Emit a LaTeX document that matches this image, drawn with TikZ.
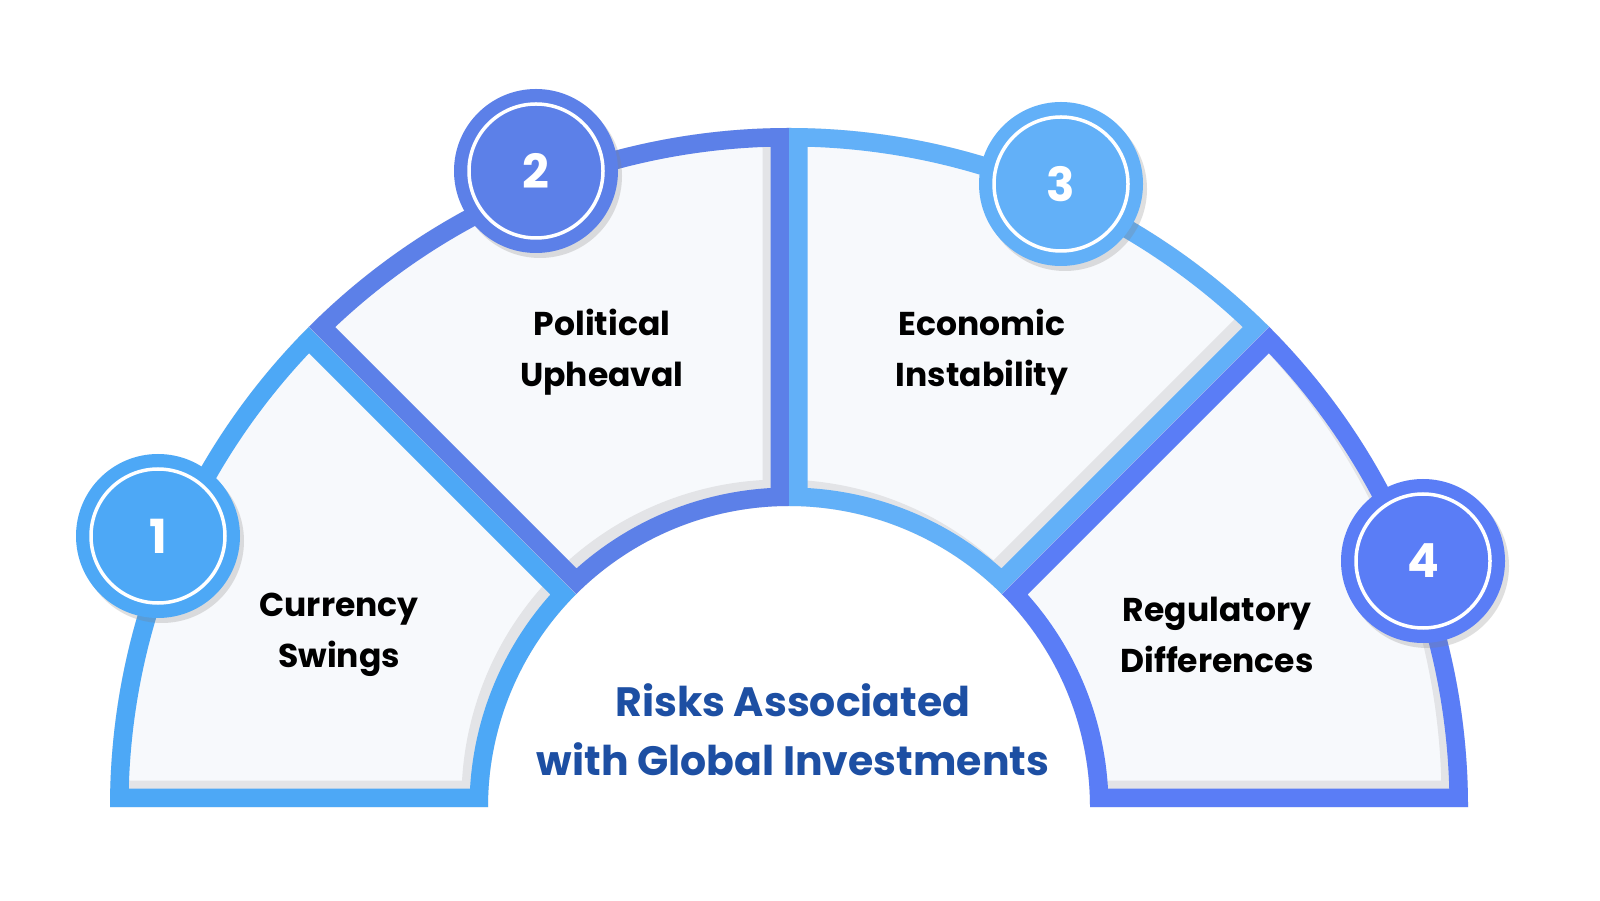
\documentclass[tikz,border=0pt]{standalone}
\usepackage{fontspec}
\setmainfont{Poppins}
\usetikzlibrary{shadows}
\definecolor{cA}{HTML}{4DA8F6}
\definecolor{cB}{HTML}{5C80E8}
\definecolor{cC}{HTML}{62B0F8}
\definecolor{cD}{HTML}{5A7DF6}
\definecolor{pale}{HTML}{F7F9FC}
\definecolor{edgegray}{HTML}{E3E4E7}
\definecolor{titleblue}{HTML}{1D4FA3}
\tikzset{
 badge/.style={circle,minimum size=164pt,inner sep=0pt,text=white,font=\fontsize{47}{50}\selectfont\bfseries,drop shadow={shadow xshift=4pt,shadow yshift=-5pt,opacity=.25}},
 lbl/.style={align=center,font=\fontsize{33}{51}\selectfont\bfseries,text=black},
}
\begin{document}
\begin{tikzpicture}[x=1pt,y=1pt]
\useasboundingbox[fill=white] (0,0) rectangle (1600,900);
\foreach \a/\b/\c in {135/180/cA,90/135/cB,45/90/cC,0/45/cD}{
 \begin{scope}
 \clip (789,93) ++(\a:679) arc[start angle=\a,end angle=\b,radius=679] -- ++(\b:-378) arc[start angle=\b,end angle=\a,radius=301] -- cycle;
 \fill[pale] (789,93) ++(\a:679) arc[start angle=\a,end angle=\b,radius=679] -- ++(\b:-378) arc[start angle=\b,end angle=\a,radius=301] -- cycle;
 \draw[draw=edgegray,line width=37pt,line join=miter] (781,101) ++(\a:679) arc[start angle=\a,end angle=\b,radius=679] -- ++(\b:-378) arc[start angle=\b,end angle=\a,radius=301] -- cycle;
 \draw[draw=\c,line width=37pt] (789,93) ++(\a:679) arc[start angle=\a,end angle=\b,radius=679] -- ++(\b:-378) arc[start angle=\b,end angle=\a,radius=301] -- cycle;
 \end{scope}
}
\node[badge,fill=cA] (n1) at (158,364) {1};
\node[badge,fill=cB] (n2) at (536,729) {2};
\node[badge,fill=cC] (n3) at (1061,716) {3};
\node[badge,fill=cD] (n4) at (1423,339) {4};
\foreach \n in {n1,n2,n3,n4}{\draw[white,line width=3.5pt] (\n.center) circle[radius=67];}
\node[lbl] (l1) at (339,265) {Currency\\Swings};
\node[lbl] (l2) at (602,548) {Political\\Upheaval};
\node[lbl] (l3) at (982,548) {Economic\\Instability};
\node[lbl] (l4) at (1217,265) {Regulatory\\Differences};
\node[align=center,text=titleblue,font=\fontsize{41}{59}\selectfont\bfseries] (t) at (793,170) {Risks Associated\\with Global Investments};
\end{tikzpicture}
\end{document}
